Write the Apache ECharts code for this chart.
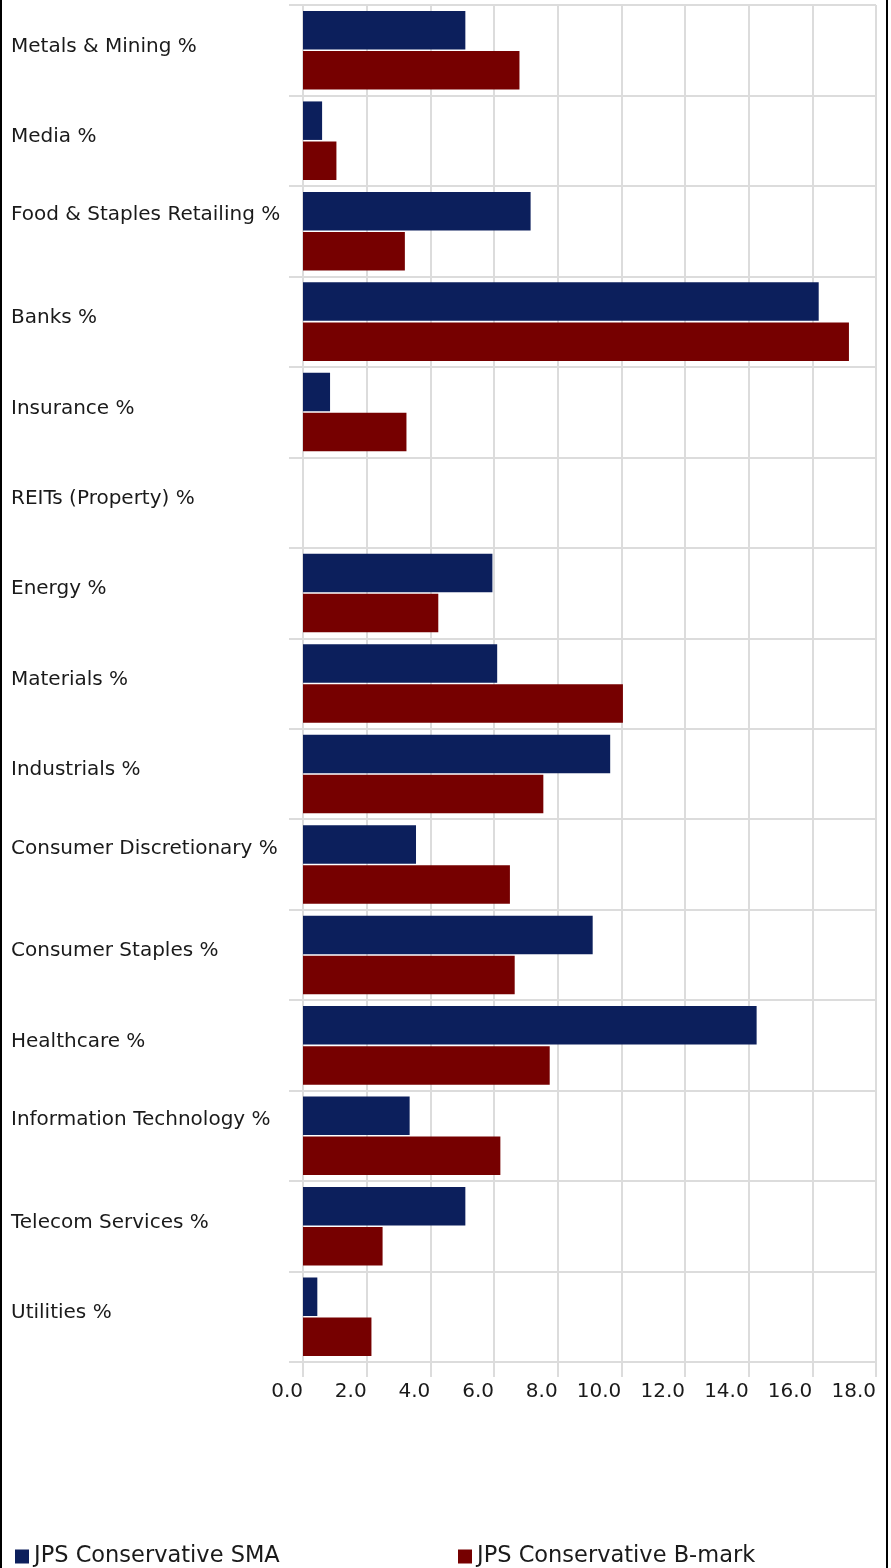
<!DOCTYPE html>
<html>
<head>
<meta charset="utf-8">
<script src="https://cdn.jsdelivr.net/npm/echarts@6/dist/echarts.min.js"></script>
<style>
html,body{margin:0;padding:0;background:#fff;}
#chart{width:891px;height:1568px;position:absolute;left:0;top:0;}
.bl{position:absolute;top:0;height:1568px;background:#000;pointer-events:none;}
</style>
</head>
<body>
<div id="chart"></div>
<div class="bl" style="left:0;width:2px;"></div>
<div class="bl" style="left:886px;width:2px;"></div>
<script>
const categories = ['Metals & Mining %','Media %','Food & Staples Retailing %','Banks %','Insurance %','REITs (Property) %','Energy %','Materials %','Industrials %','Consumer Discretionary %','Consumer Staples %','Healthcare %','Information Technology %','Telecom Services %','Utilities %'];
const smaValues = [5.1,0.6,7.15,16.2,0.85,0,5.95,6.1,9.65,3.55,9.1,14.25,3.35,5.1,0.45];
const bmarkValues = [6.8,1.05,3.2,17.15,3.25,0,4.25,10.05,7.55,6.5,6.65,7.75,6.2,2.5,2.15];
const seriesNames = ['JPS Conservative SMA','JPS Conservative B-mark'];
const xTicks = {min:0, max:18, interval:2};

const FONT = 'DejaVu Sans';
const gridColor = '#dcdcdc';
const chart = echarts.init(document.getElementById('chart'));
chart.setOption({
  animation:false,
  grid:{left:303, right:15, top:5, bottom:206, containLabel:false},
  legend:[
    {data:[seriesNames[0]], left:10, top:1540, itemWidth:14, itemHeight:14, icon:'rect', textStyle:{fontFamily:FONT, fontSize:22.5, color:'#1a1a1a'}},
    {data:[seriesNames[1]], left:453, top:1540, itemWidth:14, itemHeight:14, icon:'rect', textStyle:{fontFamily:FONT, fontSize:22.5, color:'#1a1a1a'}}
  ],
  xAxis:{
    type:'value', min:xTicks.min, max:xTicks.max, interval:xTicks.interval,
    axisLine:{show:true, lineStyle:{color:gridColor, width:2}},
    axisTick:{show:true, length:15, lineStyle:{color:gridColor, width:2}},
    splitLine:{show:true, lineStyle:{color:gridColor, width:2}},
    axisLabel:{fontFamily:FONT, fontSize:20, color:'#1a1a1a', align:'right', margin:20,
      formatter:v=>v.toFixed(1)}
  },
  yAxis:{
    type:'category', data:categories, inverse:true,
    axisLine:{show:true, lineStyle:{color:gridColor, width:2}},
    axisTick:{show:true, length:14, lineStyle:{color:gridColor, width:2}},
    splitLine:{show:true, lineStyle:{color:gridColor, width:2}},
    axisLabel:{fontFamily:FONT, fontSize:20, color:'#1a1a1a', align:'left', margin:292,
      verticalAlign:'bottom', lineHeight:7.5,
      formatter:v=> v.length > 20 ? '{t|' + v + '}\n{g| }' : '{t|' + v + '}',
      rich:{
        t:{fontFamily:FONT, fontSize:20, color:'#1a1a1a', lineHeight:7.5},
        g:{fontSize:1, lineHeight:12.25}
      }}
  },
  series:[
    {name:seriesNames[0], type:'bar', data:smaValues, barWidth:38.5, barGap:'4%', itemStyle:{color:'#0c1f5c'}},
    {name:seriesNames[1], type:'bar', data:bmarkValues, barWidth:38.5, barGap:'4%', itemStyle:{color:'#760000'}}
  ]
});
</script>
</body>
</html>
